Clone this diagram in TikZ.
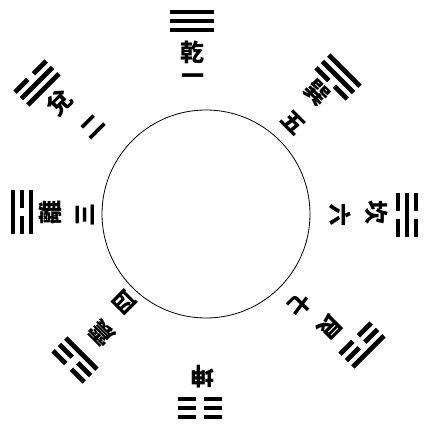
\documentclass[tikz,border=0pt]{standalone}
\usepackage{fontspec}
\newfontfamily\cjk{Noto Sans CJK TC}
\tikzset{
  yao/.style={line width=4.8pt,line cap=butt,black},
  lbl/.style={font=\cjk\bfseries\fontsize{24}{24}\selectfont,inner sep=0pt},
  num/.style={font=\cjk\bfseries\fontsize{23}{23}\selectfont,inner sep=0pt},
  ring/.style={draw,line width=0.8pt}
}
\newcommand\yaoline[2]{%
  \ifnum#2=1 \draw[yao] (-22,#1) -- (22,#1);%
  \else \draw[yao] (-22,#1) -- (-4,#1) (4,#1) -- (22,#1);\fi}
\newcommand\trigram[5]{%
  \begin{scope}[shift={(#1)},rotate=#2]
    \yaoline{-9}{#3}\yaoline{0}{#4}\yaoline{9}{#5}
  \end{scope}}
\begin{document}
\begin{tikzpicture}[x=1pt,y=1pt]
\useasboundingbox (0,0) rectangle (425,425);
\node[ring,circle,minimum size=208pt,inner sep=0pt] (c) at (206,211) {};
% trigrams: inner, middle, outer
\trigram{192,404}{0}{1}{1}{1}
\trigram{338,348}{-45}{0}{1}{1}
\trigram{407,210}{-90}{0}{1}{0}
\trigram{362,80}{-135}{0}{0}{1}
\trigram{200,17}{180}{0}{0}{0}
\trigram{75,65}{135}{1}{0}{0}
\trigram{22,213}{90}{1}{0}{1}
\trigram{37,342}{45}{1}{1}{0}
% labels
\node[lbl] (qian) at (192,373) {乾};
\node[num] (n1) at (193,346) {一};
\node[lbl,rotate=-45] (xun) at (317,332) {巽};
\node[num,rotate=-45] (n5) at (293,302) {五};
\node[lbl,rotate=-90] (kan) at (377,212) {坎};
\node[num,rotate=-90] (n6) at (340,210) {六};
\node[lbl,rotate=-135] (gen) at (330,98) {艮};
\node[num,rotate=-135] (n7) at (300,120) {七};
\node[lbl,rotate=180] (kun) at (202,48) {坤};
\node[lbl,rotate=135] (zhen) at (102,92) {震};
\node[num,rotate=135] (n4) at (125,123) {四};
\node[lbl,rotate=90] (li) at (50,212) {離};
\node[num,rotate=90] (n3) at (85,210) {三};
\node[lbl,rotate=45] (dui) at (60,322) {兌};
\node[num,rotate=45] (n2) at (93,298) {二};
\end{tikzpicture}
\end{document}
